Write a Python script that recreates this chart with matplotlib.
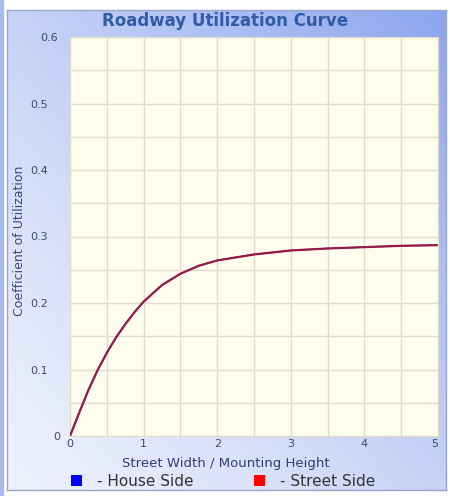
import numpy as np
import matplotlib.pyplot as plt
from matplotlib.patches import Patch, Rectangle
from matplotlib.ticker import MultipleLocator
import matplotlib.transforms as mtransforms

# curve (both sides overlap)
ratio = [0, 0.125, 0.25, 0.375, 0.5, 0.625, 0.75, 0.875, 1.0, 1.25, 1.5, 1.75,
         2.0, 2.5, 3.0, 3.5, 4.0, 4.5, 5.0]
house_side = [0, 0.035, 0.069, 0.099, 0.125, 0.148, 0.168, 0.186, 0.202, 0.227,
              0.244, 0.256, 0.264, 0.273, 0.279, 0.282, 0.284, 0.286, 0.287]
street_side = list(house_side)

y_ticks = [0, 0.1, 0.2, 0.3, 0.4, 0.5, 0.6]
x_ticks = [0, 1, 2, 3, 4, 5]

fig = plt.figure(figsize=(4.5, 4.96), dpi=100)
fig.patch.set_facecolor('white')

# blue gradient panel behind everything
bg = fig.add_axes([7/450, 1 - 490/496, 439/450, 480/496], zorder=0)
gx, gy = np.meshgrid(np.linspace(0, 1, 200), np.linspace(1, 0, 200))
t = (0.5*gx + 0.5*gy) ** 1.3
c0 = np.array([238, 241, 252]) / 255
c1 = np.array([140, 165, 238]) / 255
img = c0[None, None, :]*(1 - t[..., None]) + c1[None, None, :]*t[..., None]
bg.imshow(img, aspect='auto', extent=[0, 1, 0, 1])
bg.set_xticks([])
bg.set_yticks([])
for s in bg.spines.values():
    s.set_color('#9aa8c8')
    s.set_linewidth(1)
fig.patches.append(Rectangle((0, 0), 3/450, 1, transform=fig.transFigure,
                             color='#a8bcef', zorder=0))

ax = fig.add_axes([70/450, 60/496, 368/450, 399/496], zorder=1)
ax.set_facecolor('#fffdee')

ax.plot(ratio, house_side, color='#1a1aff', lw=1.0, zorder=3)
ax.plot(ratio, street_side, color='#971a45', lw=1.6, zorder=4)

ax.set_xlim(0, 5)
ax.set_ylim(0, 0.6)
ax.set_xticks(x_ticks)
ax.set_yticks(y_ticks)
ax.set_yticklabels(['0', '0.1', '0.2', '0.3', '0.4', '0.5', '0.6'])
ax.xaxis.set_minor_locator(MultipleLocator(0.5))
ax.yaxis.set_minor_locator(MultipleLocator(0.05))
ax.grid(True, which='both', color='#e0ddcb', lw=1)
ax.set_axisbelow(True)
ax.tick_params(which='both', length=0, labelsize=8, labelcolor='#3c4a6b')
ax.tick_params(axis='y', pad=16)
ax.tick_params(axis='x', pad=2)
for s in ax.spines.values():
    s.set_color('#e0ddcb')

# the 0 and 0.6 labels on the y axis sit closer to the plot
ylbls = ax.get_yticklabels()
for lbl, dx in ((ylbls[0], 12), (ylbls[-1], 10)):
    lbl.set_transform(lbl.get_transform() +
                      mtransforms.ScaledTranslation(dx/100, 0, fig.dpi_scale_trans))
# last x label is tucked inside the right edge
ax.get_xticklabels()[-1].set_horizontalalignment('right')

fig.text(225/450, 1 - 21/496, 'Roadway Utilization Curve', ha='center', va='center',
         fontsize=12, fontweight='bold', color='#2e5ca8')
fig.text(226/450, 1 - 463/496, 'Street Width / Mounting Height', ha='center',
         va='center', fontsize=9.5, color='#2e3f7a')
fig.text(20/450, 1 - 241/496, 'Coefficient of Utilization', rotation=90,
         ha='center', va='center', fontsize=9, color='#3a4a7a')

handles = [Patch(facecolor='#0000ff', edgecolor='none', label='- House Side'),
           Patch(facecolor='#ff0000', edgecolor='none', label='- Street Side')]
fig.legend(handles=handles, loc='center left', bbox_to_anchor=(57/450, 1 - 481/496),
           ncol=2, frameon=False, fontsize=11, handlelength=0.75, handleheight=0.75,
           handletextpad=1.0, columnspacing=3.9, labelcolor='#333333')

fig.savefig('out.png', dpi=100)
